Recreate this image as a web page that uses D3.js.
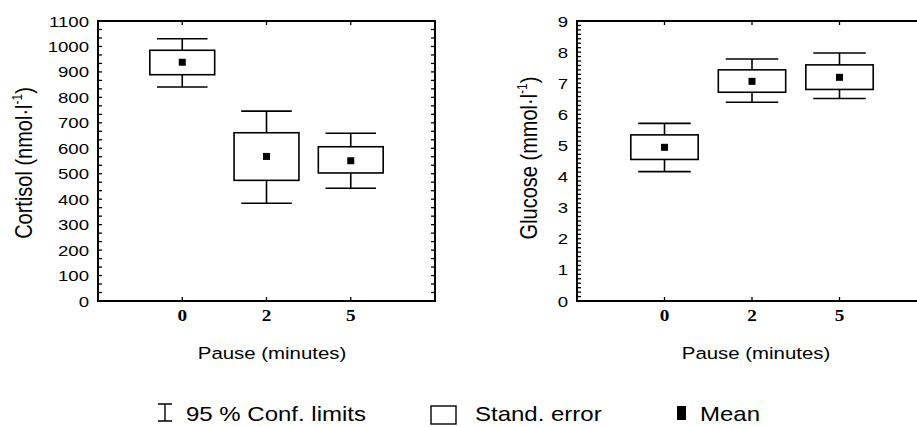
<!DOCTYPE html>
<html>
<head>
<meta charset="utf-8">
<script src="https://cdn.jsdelivr.net/npm/d3@7"></script>
<style>
  body { margin: 0; background: #fff; }
  text { font-family: "Liberation Sans", Arial, sans-serif; fill: #000; }
</style>
</head>
<body>
<div id="chart"></div>
<script>
// data
const categories = ['0', '2', '5'];

const cortisolMean = [938, 568, 551];
const cortisolSeLow = [889, 474, 503];
const cortisolSeHigh = [985, 661, 606];
const cortisolCiLow = [841, 384, 443];
const cortisolCiHigh = [1030, 746, 659];
const cortisolTicks = [0, 100, 200, 300, 400, 500, 600, 700, 800, 900, 1000, 1100];

const glucoseMean = [4.94, 7.06, 7.19];
const glucoseSeLow = [4.55, 6.71, 6.80];
const glucoseSeHigh = [5.34, 7.43, 7.59];
const glucoseCiLow = [4.16, 6.39, 6.51];
const glucoseCiHigh = [5.71, 7.78, 7.97];
const glucoseTicks = [0, 1, 2, 3, 4, 5, 6, 7, 8, 9];

const legendLabels = ['95 % Conf. limits', 'Stand. error', 'Mean'];

const W = 917, H = 427;
const SX = 1.2; // text in the picture is stretched sideways

var svg = d3.select('#chart').append('svg')
	.attr('width', W).attr('height', H);

function stretchedText(g, x, y, str, size, anchor) {
	return g.append('text')
		.attr('transform', 'translate(' + x + ',' + y + ') scale(' + SX + ',1)')
		.attr('text-anchor', anchor)
		.style('font-size', size + 'px')
		.text(str);
}

function drawPanel(opt) {
	var g = svg.append('g');
	var x = d3.scalePoint().domain(categories).range([opt.left, opt.right]).padding(1);
	var y = d3.scaleLinear().domain([0, opt.max]).range([opt.bottom, opt.top]);
	var step = x.step();

	// minor ticks on left/right edges
	var minor = d3.range(0, opt.max + 1e-9, opt.minorStep);
	[opt.left, opt.right].forEach(function (edge, i) {
		var dir = i === 0 ? 1 : -1;
		g.selectAll(null).data(minor).enter().append('line')
			.attr('x1', edge).attr('x2', edge + dir * 4)
			.attr('y1', function (d) { return y(d); })
			.attr('y2', function (d) { return y(d); })
			.attr('stroke', '#000').attr('stroke-width', 1.3);
	});

	// category ticks on top and bottom
	g.selectAll(null).data(categories).enter().append('line')
		.attr('x1', function (d) { return x(d); }).attr('x2', function (d) { return x(d); })
		.attr('y1', opt.top).attr('y2', opt.top + 4)
		.attr('stroke', '#000').attr('stroke-width', 1.3);
	g.selectAll(null).data(categories).enter().append('line')
		.attr('x1', function (d) { return x(d); }).attr('x2', function (d) { return x(d); })
		.attr('y1', opt.bottom).attr('y2', opt.bottom - 4)
		.attr('stroke', '#000').attr('stroke-width', 1.3);

	// frame
	g.append('rect')
		.attr('x', opt.left).attr('y', opt.top)
		.attr('width', opt.right - opt.left).attr('height', opt.bottom - opt.top)
		.attr('fill', 'none').attr('stroke', '#000').attr('stroke-width', 2);

	// y tick labels
	opt.ticks.forEach(function (t) {
		stretchedText(g, opt.left - 9, y(t) + 5.5, String(t), 15.5, 'end');
	});

	// category labels
	categories.forEach(function (c) {
		stretchedText(g, x(c), 321, c, 16, 'middle')
			.style('font-family', '"Liberation Serif", "Times New Roman", serif')
			.style('font-weight', 'bold');
	});

	var rows = categories.map(function (c, i) {
		return { c: c, mean: opt.mean[i], seLo: opt.seLow[i], seHi: opt.seHigh[i], ciLo: opt.ciLow[i], ciHi: opt.ciHigh[i] };
	});
	var boxW = step * 0.77, whW = step * 0.6;

	var items = g.selectAll(null).data(rows).enter().append('g');
	items.append('line')
		.attr('x1', function (d) { return x(d.c); }).attr('x2', function (d) { return x(d.c); })
		.attr('y1', function (d) { return y(d.ciHi); }).attr('y2', function (d) { return y(d.ciLo); })
		.attr('stroke', '#000').attr('stroke-width', 1.6);
	['ciHi', 'ciLo'].forEach(function (k) {
		items.append('line')
			.attr('x1', function (d) { return x(d.c) - whW / 2; })
			.attr('x2', function (d) { return x(d.c) + whW / 2; })
			.attr('y1', function (d) { return y(d[k]); }).attr('y2', function (d) { return y(d[k]); })
			.attr('stroke', '#000').attr('stroke-width', 1.6);
	});
	items.append('rect')
		.attr('x', function (d) { return x(d.c) - boxW / 2; })
		.attr('y', function (d) { return y(d.seHi); })
		.attr('width', boxW)
		.attr('height', function (d) { return y(d.seLo) - y(d.seHi); })
		.attr('fill', '#fff').attr('stroke', '#000').attr('stroke-width', 1.6);
	items.append('rect')
		.attr('x', function (d) { return x(d.c) - 3.5; })
		.attr('y', function (d) { return y(d.mean) - 3.5; })
		.attr('width', 7).attr('height', 7)
		.attr('fill', '#000');

	// axis titles
	stretchedText(g, opt.xTitleX, 359, 'Pause (minutes)', 17, 'middle');
	var yt = g.append('text')
		.attr('transform', 'translate(' + opt.yTitleX + ',' + opt.yTitleY + ') scale(' + SX + ',1) rotate(-90)')
		.attr('text-anchor', 'middle')
		.style('font-size', '20px');
	yt.append('tspan').text(opt.yTitle + ' (' + opt.unit + '\u00b7l');
	yt.append('tspan').attr('dy', -8).style('font-size', '12px').text('-1');
	yt.append('tspan').attr('dy', 8).text(')');
}

drawPanel({
	left: 98, right: 435, top: 21, bottom: 301, max: 1100, minorStep: 100 / 3,
	ticks: cortisolTicks,
	mean: cortisolMean, seLow: cortisolSeLow, seHigh: cortisolSeHigh, ciLow: cortisolCiLow, ciHigh: cortisolCiHigh,
	xTitleX: 272, yTitleX: 32, yTitleY: 163, yTitle: 'Cortisol', unit: 'nmol'
});

drawPanel({
	left: 577, right: 927, top: 21, bottom: 301, max: 9, minorStep: 1 / 7,
	ticks: glucoseTicks,
	mean: glucoseMean, seLow: glucoseSeLow, seHigh: glucoseSeHigh, ciLow: glucoseCiLow, ciHigh: glucoseCiHigh,
	xTitleX: 756, yTitleX: 537, yTitleY: 158, yTitle: 'Glucose', unit: 'mmol'
});

// legend
var lg = svg.append('g');
var ly = 421;
lg.append('path')
	.attr('d', 'M158,404H172M165,404V421M158,421H172')
	.attr('fill', 'none').attr('stroke', '#000').attr('stroke-width', 1.4);
stretchedText(lg, 186, ly, legendLabels[0], 20, 'start');
lg.append('rect')
	.attr('x', 431).attr('y', 406).attr('width', 25).attr('height', 18)
	.attr('fill', 'none').attr('stroke', '#000').attr('stroke-width', 1.4);
stretchedText(lg, 475, ly, legendLabels[1], 20, 'start');
lg.append('rect')
	.attr('x', 677).attr('y', 406).attr('width', 9).attr('height', 14)
	.attr('fill', '#000');
stretchedText(lg, 700, ly, legendLabels[2], 20, 'start');
</script>
</body>
</html>
